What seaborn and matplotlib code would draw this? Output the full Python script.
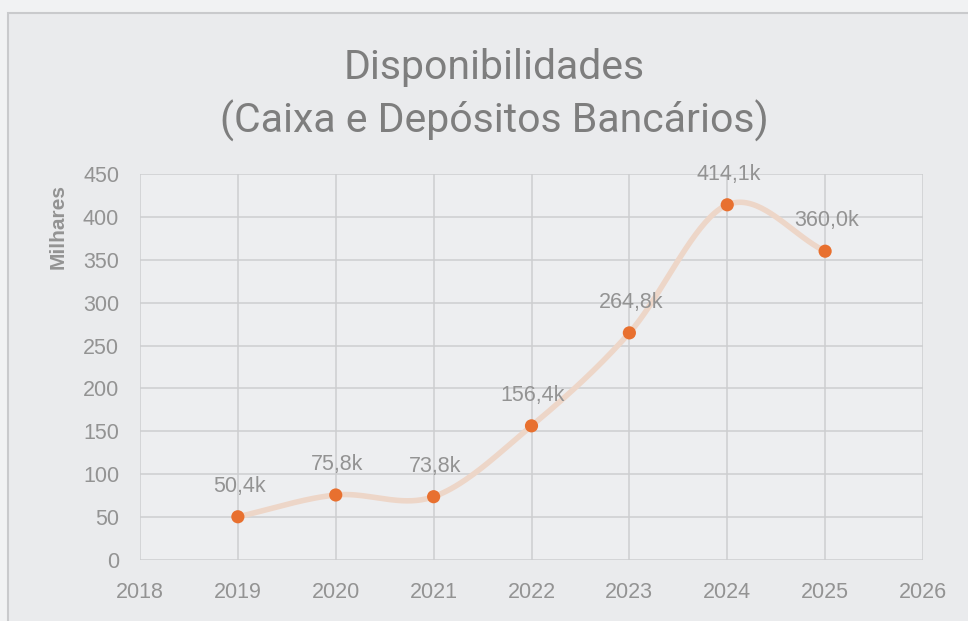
import numpy as np
import pandas as pd
import matplotlib
matplotlib.use("Agg")
import matplotlib.pyplot as plt
from matplotlib.patches import Rectangle
import seaborn as sns

# Cash and bank deposits, in thousands
years = [2019, 2020, 2021, 2022, 2023, 2024, 2025]
values = [50.4, 75.8, 73.8, 156.4, 264.8, 414.1, 360.0]
labels = ["50,4k", "75,8k", "73,8k", "156,4k", "264,8k", "414,1k", "360,0k"]
x_ticks = [2018, 2019, 2020, 2021, 2022, 2023, 2024, 2025, 2026]
y_ticks = [0, 50, 100, 150, 200, 250, 300, 350, 400, 450]

title = "Disponibilidades\n(Caixa e Depósitos Bancários)"
y_label = "Milhares"


def catmull_rom(xs, ys, steps=40):
    """Smoothed path through the points (Catmull-Rom spline)."""
    xs = np.asarray(xs, float)
    ys = np.asarray(ys, float)
    px = np.concatenate([[2 * xs[0] - xs[1]], xs, [2 * xs[-1] - xs[-2]]])
    py = np.concatenate([[2 * ys[0] - ys[1]], ys, [2 * ys[-1] - ys[-2]]])
    out_x, out_y = [], []
    t = np.linspace(0, 1, steps, endpoint=False)
    for i in range(1, len(px) - 2):
        for arr, out in ((px, out_x), (py, out_y)):
            p0, p1, p2, p3 = arr[i - 1], arr[i], arr[i + 1], arr[i + 2]
            seg = 0.5 * ((2 * p1) + (-p0 + p2) * t
                         + (2 * p0 - 5 * p1 + 4 * p2 - p3) * t ** 2
                         + (-p0 + 3 * p1 - 3 * p2 + p3) * t ** 3)
            out.extend(seg)
    out_x.append(xs[-1])
    out_y.append(ys[-1])
    return np.array(out_x), np.array(out_y)


sns.set_theme(style="whitegrid")
plt.rcParams["font.family"] = ["Liberation Sans", "DejaVu Sans"]

outer = "#F1F2F3"
bg = "#EAEBED"
text_grey = "#939393"

fig = plt.figure(figsize=(9.68, 6.21), dpi=100, facecolor=outer)
# chart frame behind everything
fig.patches.append(Rectangle((8 / 968, -0.05), 1.05, 1 - 13 / 621 + 0.05,
                             transform=fig.transFigure, facecolor=bg,
                             edgecolor="#C9CACC", linewidth=1.5, zorder=-10))

ax = fig.add_axes([140 / 968, 1 - 560 / 621, 783 / 968, 386 / 621])
ax.set_zorder(2)
ax.set_facecolor("#EDEEF0")

df = pd.DataFrame({"ano": years, "valor": values})
sx, sy = catmull_rom(years, values)
smooth = pd.DataFrame({"ano": sx, "valor": sy})

sns.lineplot(data=smooth, x="ano", y="valor", ax=ax, color="#EDD6C8",
             linewidth=4, sort=False, zorder=3)
sns.scatterplot(data=df, x="ano", y="valor", ax=ax, color="#E8702F",
                s=90, edgecolor="none", zorder=4)

for xv, yv, lab in zip(years, values, labels):
    ax.annotate(lab, (xv, yv), xytext=(1, 22), textcoords="offset points",
                ha="center", va="center", fontsize=15.5, color=text_grey)

ax.set_xlim(2018, 2026)
ax.set_ylim(0, 450)
ax.set_xticks(x_ticks)
ax.set_yticks(y_ticks)
ax.tick_params(axis="x", labelsize=15.5, colors=text_grey, pad=16, length=0)
ax.tick_params(axis="y", labelsize=15.5, colors=text_grey, pad=15, length=0)
ax.set_xlabel("")
ax.set_ylabel(y_label, fontsize=15, fontweight="bold", color=text_grey)
ax.yaxis.set_label_coords(-0.092, 0.865)
ax.grid(True, color="#CDCED0", linewidth=1.1)
for s in ax.spines.values():
    s.set_visible(False)

fig.text(0.511, 0.847, title, ha="center", va="center", fontsize=29.5,
         color="#7E7E7E", linespacing=1.42, fontweight="normal",
         family=["Roboto", "DejaVu Sans"], zorder=3)

fig.savefig("out.png", dpi=100, facecolor=outer)
